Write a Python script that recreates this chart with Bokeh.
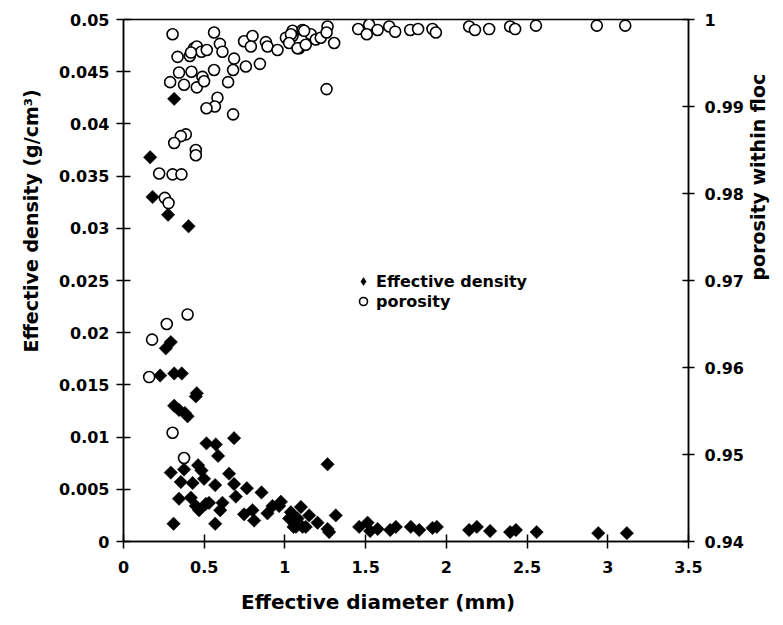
import math
from bokeh.plotting import figure
from bokeh.models import (Range1d, LinearAxis, FixedTicker, CustomJSTickFormatter,
                          Legend, LegendItem, Title)
from bokeh.embed import file_html
from bokeh.resources import INLINE

# ---- data ----
dens_x = [0.314, 0.165, 0.180, 0.276, 0.403, 0.293, 0.262, 0.227, 0.314, 0.361,
          0.454, 0.448, 0.314, 0.344, 0.380, 0.397, 0.685, 0.514, 0.572, 0.586,
          0.293, 0.375, 0.462, 0.483, 0.499, 0.654, 0.355, 0.428, 0.568, 0.685,
          0.764, 0.855, 0.696, 0.344, 0.417, 0.448, 0.468, 0.510, 0.530, 0.613,
          0.599, 0.747, 0.799, 0.809, 0.892, 0.964, 1.037, 1.053, 1.109, 1.099,
          0.310, 0.568, 0.923, 0.975, 1.037, 1.078, 1.150, 1.202, 1.264, 1.315,
          1.026, 1.129, 1.068, 1.264, 1.274, 1.460, 1.512, 1.528, 1.574, 1.652,
          1.687, 1.780, 1.832, 1.914, 1.941, 2.141, 2.189, 2.271, 2.395, 2.431,
          2.559, 2.941, 3.118]
dens_y = [0.0424, 0.0368, 0.0330, 0.0313, 0.0302, 0.0191, 0.0185, 0.0159, 0.0161, 0.0161,
          0.0142, 0.0139, 0.0130, 0.0126, 0.0123, 0.0120, 0.0099, 0.0094, 0.0093, 0.0082,
          0.0066, 0.0069, 0.0073, 0.0068, 0.0060, 0.0065, 0.0057, 0.0056, 0.0054, 0.0055,
          0.0051, 0.0047, 0.0043, 0.0041, 0.0042, 0.0034, 0.0030, 0.0036, 0.0037, 0.0037,
          0.0030, 0.0026, 0.0030, 0.0020, 0.0027, 0.0034, 0.0023, 0.0014, 0.0014, 0.0033,
          0.0017, 0.0017, 0.0034, 0.0038, 0.0028, 0.0022, 0.0025, 0.0018, 0.0012, 0.0025,
          0.0022, 0.0014, 0.0014, 0.0074, 0.0009, 0.0014, 0.0018, 0.0010, 0.0012, 0.0011,
          0.0014, 0.0014, 0.0011, 0.0013, 0.0014, 0.0011, 0.0014, 0.0010, 0.0009, 0.0011,
          0.0009, 0.0008, 0.0008]

por_x = [0.304, 0.561, 0.335, 0.411, 0.437, 0.454, 0.483, 0.516, 0.597, 0.613,
         0.747, 0.799, 0.789, 0.882, 0.892, 0.954, 1.016, 1.047, 1.047, 1.109,
         1.088, 0.685, 0.758, 0.845, 0.679, 0.561, 0.344, 0.421, 0.289, 0.375,
         0.454, 0.489, 0.499, 0.648, 0.582, 0.566, 0.514, 0.679, 0.386, 0.355,
         0.314, 0.448, 0.448, 0.221, 0.304, 0.359, 0.256, 0.279, 0.397, 0.268,
         0.177, 0.159, 0.304, 0.375, 1.006, 1.037, 1.026, 1.078, 1.129, 1.160,
         1.191, 1.222, 1.264, 1.305, 1.454, 1.522, 1.507, 1.574, 1.119, 1.258,
         1.258, 1.646, 1.683, 1.776, 1.825, 1.914, 1.935, 2.141, 2.177, 2.265,
         2.395, 2.426, 2.555, 2.932, 3.108, 0.418]
por_y = [0.9983, 0.9985, 0.9957, 0.9958, 0.9967, 0.9969, 0.9963, 0.9965, 0.9972, 0.9963,
         0.9975, 0.9981, 0.9969, 0.9974, 0.9969, 0.9965, 0.9977, 0.9987, 0.9981, 0.9988,
         0.9967, 0.9955, 0.9946, 0.9949, 0.9942, 0.9942, 0.9939, 0.9940, 0.9928, 0.9925,
         0.9922, 0.9934, 0.9929, 0.9928, 0.9910, 0.9900, 0.9898, 0.9891, 0.9868, 0.9866,
         0.9858, 0.9850, 0.9844, 0.9823, 0.9822, 0.9822, 0.9795, 0.9789, 0.9661, 0.9650,
         0.9632, 0.9589, 0.9525, 0.9496, 0.9979, 0.9983, 0.9973, 0.9967, 0.9971, 0.9983,
         0.9977, 0.9979, 0.9992, 0.9973, 0.9989, 0.9994, 0.9983, 0.9988, 0.9987, 0.9985,
         0.9920, 0.9992, 0.9986, 0.9988, 0.9989, 0.9989, 0.9985, 0.9992, 0.9988, 0.9989,
         0.9992, 0.9989, 0.9993, 0.9993, 0.9993, 0.9962]

x_ticks = [0, 0.5, 1, 1.5, 2, 2.5, 3, 3.5]
y_ticks = [0, 0.005, 0.01, 0.015, 0.02, 0.025, 0.03, 0.035, 0.04, 0.045, 0.05]
y2_ticks = [0.94, 0.95, 0.96, 0.97, 0.98, 0.99, 1]

x_title = "Effective diameter (mm)"
y_title = "Effective density (g/cm\u00b3)"
y2_title = "porosity within floc"
series_names = ["Effective density", "porosity"]

FONT = "DejaVu Sans"

p = figure(width=783, height=625, x_range=Range1d(0, 3.5), y_range=Range1d(0, 0.05),
           output_backend="svg", toolbar_location=None,
           min_border_left=123, min_border_right=95, min_border_top=19, min_border_bottom=84)
p.extra_y_ranges = {"por": Range1d(0.94, 1.0)}
p.xgrid.visible = False
p.ygrid.visible = False
p.outline_line_color = "black"
p.outline_line_width = 1.5
p.background_fill_color = "white"
p.border_fill_color = "white"

fmt = CustomJSTickFormatter(code="return tick.toString();")

def style_axis(ax, ticks, tin, tout, standoff):
    ax.ticker = FixedTicker(ticks=ticks)
    ax.formatter = fmt
    ax.minor_tick_line_color = None
    ax.axis_line_width = 1.5
    ax.axis_line_color = "black"
    ax.major_tick_line_width = 1.5
    ax.major_tick_line_color = "black"
    ax.major_tick_in = tin
    ax.major_tick_out = tout
    ax.major_label_standoff = standoff
    ax.major_label_text_font = FONT
    ax.major_label_text_font_style = "bold"
    ax.major_label_text_font_size = "16px"
    ax.major_label_text_color = "black"

def style_label(ax, size, standoff):
    ax.axis_label_standoff = standoff
    ax.axis_label_text_font = FONT
    ax.axis_label_text_font_style = "bold"
    ax.axis_label_text_font_size = size
    ax.axis_label_text_color = "black"

xax = p.xaxis[0]
style_axis(xax, x_ticks, 7, 7, 12)
xax.axis_label = x_title + "\u00a0" * 8
style_label(xax, "20px", 14)

style_axis(p.yaxis[0], y_ticks, 7, 7, 7)

yax2 = LinearAxis(y_range_name="por")
style_axis(yax2, y2_ticks, 6, 6, 10)
yax2.axis_label = y2_title
yax2.axis_label_orientation = math.pi / 2
style_label(yax2, "19px", 11)
p.add_layout(yax2, "right")

r_d = p.scatter(dens_x, dens_y, marker="square", size=9.5, angle=math.pi / 4,
                fill_color="black", line_color="black", line_width=0.5)
r_p = p.scatter(por_x, por_y, y_range_name="por", marker="circle", size=11,
                fill_color="white", line_color="black", line_width=1.6)
# legend-only sample glyph for the diamond series (no visible data point)
r_dl = p.scatter([float("nan")], [float("nan")], marker="diamond", size=12,
                 fill_color="black", line_color="black", line_width=0.5)

legend = Legend(items=[LegendItem(label=series_names[0], renderers=[r_dl]),
                       LegendItem(label=series_names[1], renderers=[r_p])],
                location=(229, 230), padding=0, margin=0, spacing=0,
                glyph_width=22, glyph_height=20, label_standoff=2,
                label_text_font=FONT, label_text_font_style="bold",
                label_text_font_size="16px", label_text_color="black",
                border_line_color=None, background_fill_alpha=0)
p.add_layout(legend, "center")

t_y = Title(text=y_title, align="left", offset=189, vertical_align="bottom", standoff=28,
            text_font=FONT, text_font_style="bold", text_font_size="19px", text_color="black")
p.add_layout(t_y, "left")

open("out.html", "w").write(file_html(p, INLINE))
